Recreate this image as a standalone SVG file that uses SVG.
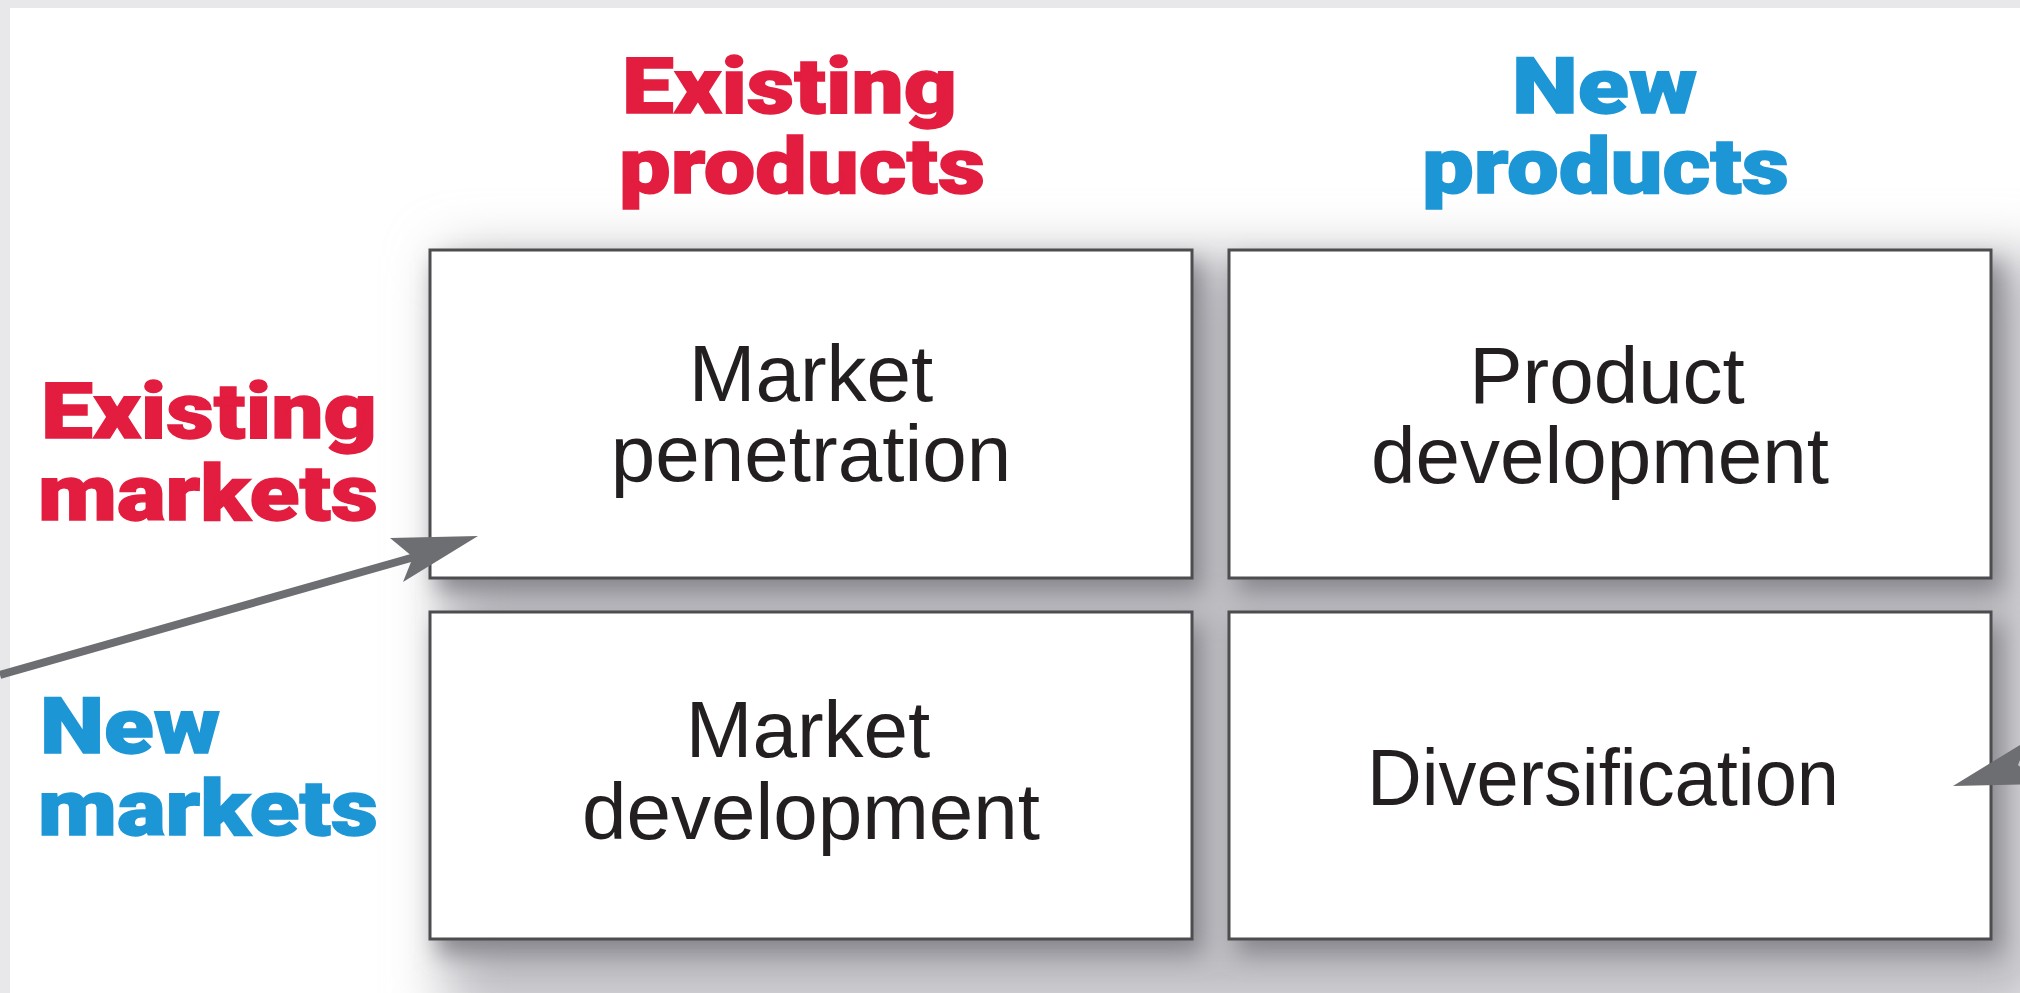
<svg xmlns="http://www.w3.org/2000/svg" width="2020" height="993" viewBox="0 0 2020 993">
  <defs>
    <style>
      .cell { fill: #ffffff; stroke: #4d4d4f; stroke-width: 3; }
      .body { font-family: "Liberation Sans", Arial, sans-serif; font-size: 80px; fill: #231f20; text-anchor: middle; }
      .head { font-family: Roboto, "Liberation Sans", sans-serif; font-weight: 900; font-size: 78px; stroke-width: 1.4; }
      .red { fill: #e31d3f; stroke: #e31d3f; }
      .blue { fill: #1d96d6; stroke: #1d96d6; }
      .arrow { fill: #6d6e71; }
    </style>
    <filter id="softShadow" x="-10%" y="-20%" width="120%" height="140%">
      <feGaussianBlur stdDeviation="28"/>
    </filter>
    <filter id="tightShadow" x="-10%" y="-20%" width="120%" height="140%">
      <feGaussianBlur stdDeviation="12"/>
    </filter>
  </defs>

  <!-- page -->
  <rect x="0" y="0" width="2020" height="993" fill="#e8e8ea"/>
  <rect x="10" y="8" width="2010" height="985" fill="#ffffff"/>

  <!-- drop shadows behind the grid -->
  <g id="shadows">
    <rect x="445" y="255" width="1600" height="760" fill="#bdbdc2" filter="url(#softShadow)"/>
    <g fill="#85858b" filter="url(#tightShadow)">
      <rect x="438" y="262" width="764" height="330"/>
      <rect x="1237" y="262" width="764" height="330"/>
      <rect x="438" y="624" width="764" height="330"/>
      <rect x="1237" y="624" width="764" height="330"/>
    </g>
  </g>

  <!-- axis labels -->
  <g id="label-existing-products">
    <text class="head red" x="622" y="113" textLength="335" lengthAdjust="spacingAndGlyphs">Existing</text>
    <text class="head red" x="619" y="193" textLength="366" lengthAdjust="spacingAndGlyphs">products</text>
  </g>
  <g id="label-new-products">
    <text class="head blue" x="1512" y="113" textLength="185" lengthAdjust="spacingAndGlyphs">New</text>
    <text class="head blue" x="1422" y="193" textLength="367" lengthAdjust="spacingAndGlyphs">products</text>
  </g>
  <g id="label-existing-markets">
    <text class="head red" x="41" y="438" textLength="336" lengthAdjust="spacingAndGlyphs">Existing</text>
    <text class="head red" x="38" y="520" textLength="340" lengthAdjust="spacingAndGlyphs">markets</text>
  </g>
  <g id="label-new-markets">
    <text class="head blue" x="40" y="753" textLength="180" lengthAdjust="spacingAndGlyphs">New</text>
    <text class="head blue" x="38" y="835" textLength="340" lengthAdjust="spacingAndGlyphs">markets</text>
  </g>

  <!-- quadrants -->
  <g id="market-penetration">
    <rect class="cell" x="430" y="250" width="762" height="328"/>
    <text class="body" x="811" y="401">Market</text>
    <text class="body" x="811" y="481">penetration</text>
  </g>
  <g id="product-development">
    <rect class="cell" x="1229" y="250" width="762" height="328"/>
    <text class="body" x="1607" y="403">Product</text>
    <text class="body" x="1600" y="483">development</text>
  </g>
  <g id="market-development">
    <rect class="cell" x="430" y="612" width="762" height="327"/>
    <text class="body" x="808" y="757">Market</text>
    <text class="body" x="811" y="839">development</text>
  </g>
  <g id="diversification">
    <rect class="cell" x="1229" y="612" width="762" height="327"/>
    <text class="body" x="1603" y="805" textLength="472" lengthAdjust="spacingAndGlyphs">Diversification</text>
  </g>

  <!-- arrows -->
  <g id="connectors">
    <line x1="0" y1="675" x2="418" y2="556" stroke="#6d6e71" stroke-width="8"/>
    <polygon class="arrow" points="478,536 390,538 413,557 403,582"/>
    <line x1="2020" y1="784" x2="2060" y2="773" stroke="#6d6e71" stroke-width="8"/>
    <polygon class="arrow" points="1953,786 2041,784 2018,765 2028,740"/>
  </g>
</svg>
